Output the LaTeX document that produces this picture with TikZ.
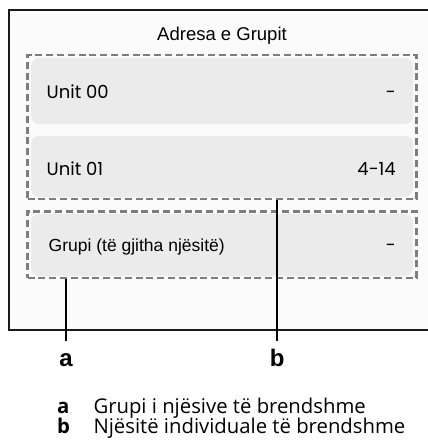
\documentclass[tikz,border=0pt]{standalone}
\usepackage{fontspec}
\setmainfont{Liberation Sans}
\newfontfamily\unitfont{Poppins}
\newfontfamily\legendfont{Open Sans}
\definecolor{PanelWhite}{RGB}{251,251,251}
\definecolor{RowGray}{RGB}{235,235,235}
\definecolor{DashGray}{RGB}{125,125,125}
\definecolor{FrameBlack}{RGB}{26,26,26}
\usetikzlibrary{positioning}

\begin{document}
\begin{tikzpicture}[x=1pt, y=-1pt, inner sep=0pt, font=\fontsize{17.5}{20}\selectfont,
	row/.style={fill=RowGray, rounded corners=8pt, minimum width=382pt},
	grp/.style={draw=DashGray, line width=2.3pt, dash pattern=on 7pt off 3.8pt, minimum width=389pt},
	unit/.style={font=\unitfont\fontsize{18}{20}\selectfont},
	lead/.style={line width=2.3pt, black},
	tag/.style={font=\fontsize{24}{26}\selectfont\bfseries, anchor=base},
	key/.style={anchor=base west, font=\legendfont\fontsize{20.3}{22}\selectfont}]
	\useasboundingbox (0,0) rectangle (428,440);
	\fill[PanelWhite] (9,10) rectangle (430,330);
	\draw[FrameBlack, line width=1.3pt] (430,10) -- (9,10) -- (9,330) -- (430,330);
	\node[anchor=base, font=\fontsize{18.5}{20}\selectfont] (title) at (222,40) {Adresa e Grupit};
	\node[row, minimum height=66pt] (u0) at (222,91) {};
	\node[row, minimum height=61pt] (u1) at (222,166.5) {};
	\node[row, minimum height=62pt] (ga) at (222,245) {};
	\node[grp, minimum height=144pt] (units) at (222,127) {};
	\node[grp, minimum height=66.5pt] (group) at (222,244.75) {};
	\node[unit, anchor=base west] (u0n) at (46.5,98.3) {Unit 00};
	\node[unit, anchor=base east] (u0a) at (396,98.3) {-};
	\node[unit, anchor=base west] (u1n) at (46.5,175) {Unit 01};
	\node[unit, anchor=base east] (u1a) at (396,175) {4-14};
	\node[anchor=base west] (gan) at (48.5,251.7) {Grupi (të gjitha njësitë)};
	\node[unit, anchor=base east] (gaa) at (396,251.7) {-};
	\node[tag] (la) at (66,366) {a};
	\node[tag] (lb) at (277.3,366) {b};
	\coordinate (ea) at (66,340.7);
	\coordinate (eb) at (277.3,340.7);
	\draw[lead] (group.south -| ea) -- (ea);
	\draw[lead] (units.south -| eb) -- (eb);
	\node[key, font=\legendfont\fontsize{20.3}{22}\selectfont\bfseries] (ka) at (57,413.3) {a};
	\node[key] (ta) at (93.3,413.3) {Grupi i njësive të brendshme};
	\node[key, font=\legendfont\fontsize{20.3}{22}\selectfont\bfseries] (kb) at (57,433) {b};
	\node[key] (tb) at (93.3,433) {Njësitë individuale të brendshme};
\end{tikzpicture}
\end{document}
